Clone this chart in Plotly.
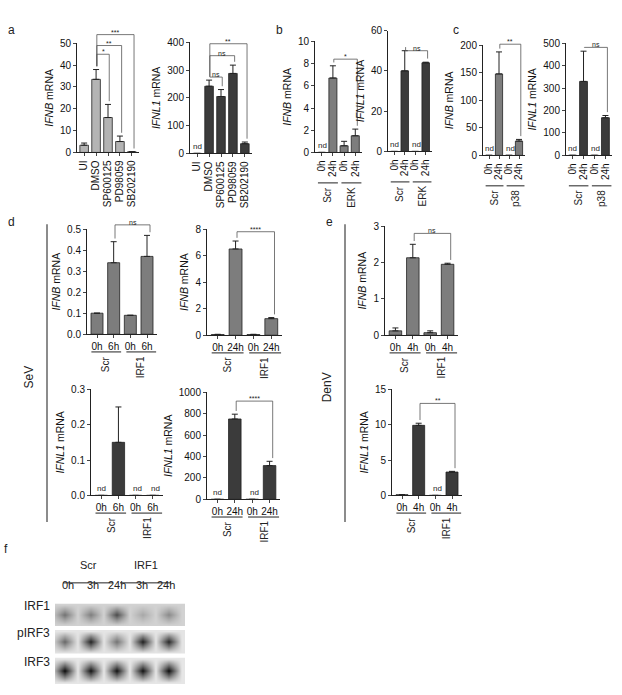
import plotly.graph_objects as go

W, H = 622, 695
FONT = "Liberation Sans"
LIGHT = "#b4b4b4"
MID = "#7d7d7d"
DARK = "#3b3b3b"

# ---- data ----
a_cats = ["UI", "DMSO", "SP600125", "PD98059", "SB202190"]
a_ifnb = [3.3, 33.5, 16.0, 5.0, 0.3]
a_ifnb_err = [1.0, 4.5, 6.0, 2.5, 0.0]
a_ifnl = [0, 242, 205, 288, 35]
a_ifnl_err = [0, 22, 25, 30, 6]

b_cats = ["0h", "24h", "0h", "24h"]
b_ifnb = [0, 6.7, 0.6, 1.5]
b_ifnb_err = [0, 1.1, 0.4, 0.6]
b_ifnl = [0, 40, 0, 44]
b_ifnl_err = [0, 10, 0, 0.3]

c_ifnb = [0, 148, 0, 26]
c_ifnb_err = [0, 40, 0, 3]
c_ifnl = [0, 330, 0, 168]
c_ifnl_err = [0, 135, 0, 10]

d6_cats = ["0h", "6h", "0h", "6h"]
d24_cats = ["0h", "24h", "0h", "24h"]
d_ifnb6 = [0.1, 0.34, 0.09, 0.37]
d_ifnb6_err = [0, 0.1, 0, 0.1]
d_ifnb24 = [0.05, 6.5, 0.05, 1.25]
d_ifnb24_err = [0.02, 0.6, 0.02, 0.08]
d_ifnl6 = [0, 0.15, 0, 0]
d_ifnl6_err = [0, 0.1, 0, 0]
d_ifnl24 = [0, 750, 0, 315]
d_ifnl24_err = [0, 45, 0, 40]

e_cats = ["0h", "4h", "0h", "4h"]
e_ifnb = [0.12, 2.13, 0.07, 1.95]
e_ifnb_err = [0.08, 0.37, 0.05, 0.03]
e_ifnl = [0.1, 9.9, 0, 3.3]
e_ifnl_err = [0, 0.3, 0, 0.1]

blot_lanes = ["0h", "3h", "24h", "3h", "24h"]
blot_rows = ["IRF1", "pIRF3", "IRF3"]
blot_band = [[0.55, 0.50, 0.72, 0.32, 0.45],
             [0.60, 0.90, 0.55, 0.92, 0.88],
             [1.00, 0.97, 0.97, 0.97, 1.00]]
blot_bg = [0.14, 0.06, 0.05]

fig = go.Figure()
layout = {}
ann = []
shapes = []
n_ax = [0]


def ax_names():
    n_ax[0] += 1
    i = n_ax[0]
    s = "" if i == 1 else str(i)
    return "x" + s, "y" + s, "xaxis" + s, "yaxis" + s


def note(x, y, text, size, **kw):
    d = dict(x=x, y=y, xref="paper", yref="paper", text=text, showarrow=False,
             xanchor="center", font=dict(size=size, color="#222"))
    d.update(kw)
    ann.append(d)


def panel(rect, cats, vals, errs, color, ymax, dtick, title, rotate, groups,
          brackets=(), nd=(), yfmt=None):
    x0, x1, yt, yb = rect
    xr, yr, xk, yk = ax_names()
    n = len(cats)
    xs = list(range(n))

    # paper coordinates of data positions (for marks drawn outside the plot range)
    def px(i):
        return (x0 + (i + 0.6) / n * (x1 - x0)) / W

    def py(v):
        return 1 - (yb - v / ymax * (yb - yt)) / H

    fig.add_trace(go.Bar(
        x=xs, y=vals, xaxis=xr, yaxis=yr, width=0.72,
        marker=dict(color=color, line=dict(color="#222", width=0.8)),
        error_y=dict(type="data", symmetric=False, array=errs,
                     arrayminus=[0] * n, color="#222", thickness=1, width=3),
        showlegend=False))
    layout[xk] = dict(domain=[x0 / W, x1 / W], anchor=yr, range=[-0.6, n - 0.4],
                      tickvals=xs, ticktext=cats, tickangle=-90 if rotate else 0,
                      showline=True, linecolor="#222", ticks="outside", ticklen=3,
                      tickfont=dict(size=10, color="#111"), showgrid=False, zeroline=False)
    layout[yk] = dict(domain=[1 - yb / H, 1 - yt / H], anchor=xr, range=[0, ymax],
                      dtick=dtick, showline=True, linecolor="#222", ticks="outside",
                      ticklen=3, tickfont=dict(size=10, color="#111"), showgrid=False,
                      zeroline=False, tickformat=yfmt,
                      title=dict(text=title, font=dict(size=10.5, color="#111"), standoff=4))
    for i in nd:
        note(px(i), py(0), "nd", 8, yanchor="bottom")
    lab_off = 31 if rotate else 18
    for g0, g1, lab in groups:
        ly = 1 - (yb + lab_off) / H
        shapes.append(dict(type="line", xref="paper", yref="paper",
                           x0=px(g0 - 0.35), x1=px(g1 + 0.35), y0=ly, y1=ly,
                           line=dict(color="#222", width=1)))
        note(px((g0 + g1) / 2), ly, lab, 10, yanchor="top", yshift=-2, textangle=-90)
    for i, j, h, lab in brackets:
        pad = ymax * 0.03
        ya = py(vals[i] + errs[i] + pad)
        yb2 = py(vals[j] + errs[j] + pad)
        hp = py(h)
        shapes.append(dict(type="path", xref="paper", yref="paper",
                           path=f"M {px(i)},{ya} L {px(i)},{hp} L {px(j)},{hp} L {px(j)},{yb2}",
                           line=dict(color="#555", width=0.8)))
        note(px((i + j) / 2), hp, lab, 7, yanchor="bottom", yshift=-3)


IFNB = "<i>IFNB</i> mRNA"
IFNL = "<i>IFNL1</i> mRNA"

panel((77, 139, 38, 149), a_cats, a_ifnb, a_ifnb_err, LIGHT, 50, 10, IFNB, True, [],
      [(1, 2, 45, "*"), (1, 3, 49, "**"), (1, 4, 54, "***")])
panel((190, 252, 37, 150), a_cats, a_ifnl, a_ifnl_err, DARK, 400, 100, IFNL, True, [],
      [(1, 2, 275, "ns"), (1, 3, 352, "ns"), (1, 4, 395, "**")], nd=[0])
panel((315, 362, 36, 149), b_cats, b_ifnb, b_ifnb_err, MID, 10, 2, IFNB, True,
      [(0, 1, "Scr"), (2, 3, "ERK")], [(1, 3, 8.4, "*")], nd=[0])
panel((388, 432, 25, 148), b_cats, b_ifnl, b_ifnl_err, DARK, 60, 20, IFNL, True,
      [(0, 1, "Scr"), (2, 3, "ERK")], [(1, 3, 50, "ns")], nd=[0, 2])
panel((483, 525, 40, 152), b_cats, c_ifnb, c_ifnb_err, MID, 200, 50, IFNB, True,
      [(0, 1, "Scr"), (2, 3, "p38")], [(1, 3, 202, "**")], nd=[0, 2])
panel((566, 612, 38, 152), b_cats, c_ifnl, c_ifnl_err, DARK, 500, 100, IFNL, True,
      [(0, 1, "Scr"), (2, 3, "p38")], [(1, 3, 482, "ns")], nd=[0, 2])

panel((87, 157, 227, 334), d6_cats, d_ifnb6, d_ifnb6_err, MID, 0.5, 0.1, IFNB, False,
      [(0, 1, "Scr"), (2, 3, "IRF1")], [(1, 3, 0.52, "ns")], yfmt=".1f")
panel((207, 282, 227, 335), d24_cats, d_ifnb24, d_ifnb24_err, MID, 8, 2, IFNB, False,
      [(0, 1, "Scr"), (2, 3, "IRF1")], [(1, 3, 7.8, "****")])
panel((91, 163, 390, 498), d6_cats, d_ifnl6, d_ifnl6_err, DARK, 0.3, 0.1, IFNL, False,
      [(0, 1, "Scr"), (2, 3, "IRF1")], nd=[0, 2, 3], yfmt=".1f")
panel((207, 280, 393, 502), d24_cats, d_ifnl24, d_ifnl24_err, DARK, 1000, 200, IFNL, False,
      [(0, 1, "Scr"), (2, 3, "IRF1")], [(1, 3, 917, "****")], nd=[0, 2])
panel((385, 458, 224, 335), e_cats, e_ifnb, e_ifnb_err, MID, 3, 1, IFNB, False,
      [(0, 1, "Scr"), (2, 3, "IRF1")], [(1, 3, 2.8, "ns")])
panel((392, 462, 390, 498), e_cats, e_ifnl, e_ifnl_err, DARK, 15, 5, IFNL, False,
      [(0, 1, "Scr"), (2, 3, "IRF1")], [(1, 3, 13, "**")], nd=[2])

# western blot strips: lanes interleaved with background columns, band row in the middle
strips = [(608, 631), (635, 659), (663, 690)]
for k, (t, b) in enumerate(strips):
    xr, yr, xk, yk = ax_names()
    bg = blot_bg[k]
    mid = [bg]
    for v in blot_band[k]:
        mid += [v, bg]
    z = [[bg] * len(mid), [bg] * len(mid), mid, [bg] * len(mid), [bg] * len(mid)]
    fig.add_trace(go.Heatmap(z=z, xaxis=xr, yaxis=yr, zmin=0, zmax=1, zsmooth="best",
                             colorscale=[[0, "#f2f2f2"], [1, "#0a0a0a"]], showscale=False))
    layout[xk] = dict(domain=[55 / W, 185 / W], anchor=yr, visible=False, range=[0.3, 10.3])
    layout[yk] = dict(domain=[1 - b / H, 1 - t / H], anchor=xr, visible=False, range=[0.9, 3.1])
    note(52 / W, 1 - (t + b) / 2 / H, blot_rows[k], 12, xanchor="right")
for i, lab in enumerate(blot_lanes):
    note((68 + i * 24.5) / W, 1 - 597 / H, lab, 11)
for g0, g1, lab in [(63, 113, "Scr"), (120, 171, "IRF1")]:
    shapes.append(dict(type="line", xref="paper", yref="paper", x0=g0 / W, x1=g1 / W,
                       y0=1 - 587 / H, y1=1 - 587 / H, line=dict(color="#222", width=1)))
    note((g0 + g1) / 2 / W, 1 - 577 / H, lab, 11)

for xp, lab, ly in [(47, "SeV", 378), (345, "DenV", 388)]:
    shapes.append(dict(type="line", xref="paper", yref="paper", x0=xp / W, x1=xp / W,
                       y0=1 - 222 / H, y1=1 - 525 / H, line=dict(color="#666", width=1.5)))
    note((xp - 18) / W, 1 - ly / H, lab, 12, textangle=-90)

for lab, px_, py_ in [("a", 11, 15), ("b", 279, 15), ("c", 456, 15), ("d", 11, 211),
                      ("e", 329, 211), ("f", 6, 562)]:
    note(px_ / W, 1 - py_ / H, lab, 12)

fig.update_layout(width=W, height=H, margin=dict(l=0, r=0, t=0, b=0),
                  plot_bgcolor="white", paper_bgcolor="white",
                  font=dict(family=FONT, color="#111"), annotations=ann, shapes=shapes,
                  **layout)
fig.write_html("out.html", config={"displayModeBar": False})

# drop the page's default body margin so the figure sits at the window's corner
with open("out.html", encoding="utf-8") as f:
    page = f.read()
page = page.replace("<head>", "<head><style>body{margin:0}</style>", 1)
with open("out.html", "w", encoding="utf-8") as f:
    f.write(page)
